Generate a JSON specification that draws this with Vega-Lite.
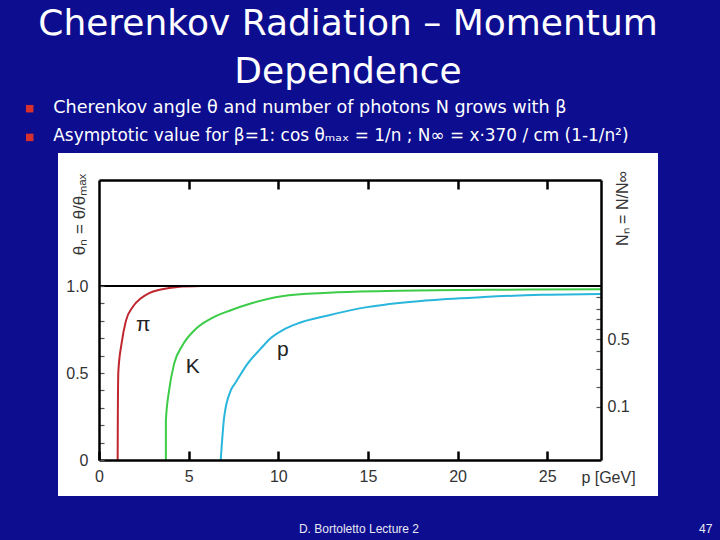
{
  "$schema": "https://vega.github.io/schema/vega-lite/v6.json",
  "width": 502,
  "height": 280,
  "autosize": {"type": "none"},
  "padding": {"left": 99, "top": 180, "right": 119, "bottom": 80},
  "background": "#0d0d90",
  "config": {"view": {"stroke": null}, "font": "Liberation Sans"},
  "data": {"values": [{}]},
  "datasets": {
    "curves": [
      {"particle": "pi", "p": 1.04, "theta": 0},
      {"particle": "pi", "p": 1.05, "theta": 0.25},
      {"particle": "pi", "p": 1.08, "theta": 0.51},
      {"particle": "pi", "p": 1.26, "theta": 0.67},
      {"particle": "pi", "p": 1.5, "theta": 0.8},
      {"particle": "pi", "p": 1.88, "theta": 0.88},
      {"particle": "pi", "p": 2.34, "theta": 0.93},
      {"particle": "pi", "p": 2.8, "theta": 0.96},
      {"particle": "pi", "p": 3.45, "theta": 0.98},
      {"particle": "pi", "p": 4.38, "theta": 0.995},
      {"particle": "pi", "p": 5.68, "theta": 1.0},
      {"particle": "K", "p": 3.73, "theta": 0},
      {"particle": "K", "p": 3.73, "theta": 0.225},
      {"particle": "K", "p": 3.91, "theta": 0.4},
      {"particle": "K", "p": 4.19, "theta": 0.553},
      {"particle": "K", "p": 4.66, "theta": 0.66},
      {"particle": "K", "p": 5.31, "theta": 0.745},
      {"particle": "K", "p": 6.24, "theta": 0.813},
      {"particle": "K", "p": 7.35, "theta": 0.861},
      {"particle": "K", "p": 8.46, "theta": 0.9},
      {"particle": "K", "p": 10.2, "theta": 0.942},
      {"particle": "K", "p": 12.8, "theta": 0.962},
      {"particle": "K", "p": 16.0, "theta": 0.972},
      {"particle": "K", "p": 20.4, "theta": 0.978},
      {"particle": "K", "p": 24.0, "theta": 0.98},
      {"particle": "K", "p": 28.0, "theta": 0.982},
      {"particle": "p", "p": 6.79, "theta": 0},
      {"particle": "p", "p": 6.98, "theta": 0.245},
      {"particle": "p", "p": 7.35, "theta": 0.4},
      {"particle": "p", "p": 7.63, "theta": 0.447},
      {"particle": "p", "p": 8.28, "theta": 0.553},
      {"particle": "p", "p": 9.02, "theta": 0.64},
      {"particle": "p", "p": 9.57, "theta": 0.7},
      {"particle": "p", "p": 10.3, "theta": 0.75},
      {"particle": "p", "p": 11.03, "theta": 0.783},
      {"particle": "p", "p": 12.77, "theta": 0.831},
      {"particle": "p", "p": 14.94, "theta": 0.879},
      {"particle": "p", "p": 18.2, "theta": 0.917},
      {"particle": "p", "p": 21.46, "theta": 0.937},
      {"particle": "p", "p": 24.72, "theta": 0.95},
      {"particle": "p", "p": 28.0, "theta": 0.955}
    ],
    "labels": [
      {"label": "π", "p": 2.47, "theta": 0.775},
      {"label": "K", "p": 5.23, "theta": 0.537},
      {"label": "p", "p": 10.26, "theta": 0.633}
    ]
  },
  "layer": [
    {
      "mark": {"type": "rect", "color": "#ffffff", "clip": false},
      "encoding": {
        "x": {"datum": -2.287, "type": "quantitative", "scale": {"domain": [0, 28], "nice": false}, "axis": null},
        "x2": {"datum": 31.18},
        "y": {"datum": -0.207, "type": "quantitative", "scale": {"domain": [0, 1.61], "nice": false}, "axis": null},
        "y2": {"datum": 1.765}
      }
    },
    {
      "data": {"name": "curves"},
      "mark": {"type": "line", "strokeWidth": 2, "clip": false, "interpolate": "monotone"},
      "encoding": {
        "x": {
          "field": "p", "type": "quantitative",
          "scale": {"domain": [0, 28], "nice": false},
          "axis": {
            "orient": "bottom", "values": [0, 5, 10, 15, 20, 25], "grid": false, "zindex": 1,
            "domainColor": "#000000", "domainWidth": 2.5,
            "tickColor": "#000000", "tickWidth": 2.5, "tickSize": -9,
            "labelFont": "Liberation Sans", "labelFontSize": 16, "labelColor": "#333333",
            "labelPadding": 25, "labelFlush": false, "labelBaseline": "middle",
            "title": "p [GeV]", "titleFont": "Liberation Sans", "titleFontSize": 16,
            "titleFontWeight": "normal", "titleColor": "#333333",
            "titleX": 509, "titleY": 17, "titleAlign": "center", "titleBaseline": "middle"
          }
        },
        "y": {
          "field": "theta", "type": "quantitative",
          "scale": {"domain": [0, 1.61], "nice": false},
          "axis": {
            "orient": "left", "values": [0, 0.1, 0.2, 0.3, 0.4, 0.5, 0.6, 0.7, 0.8, 0.9, 1],
            "grid": false, "zindex": 1,
            "domainColor": "#000000", "domainWidth": 2.5,
            "tickColor": "#555555", "tickWidth": 1.2, "tickSize": -5,
            "labelExpr": "datum.value == 0 ? '0' : datum.value == 0.5 ? '0.5' : datum.value == 1 ? '1.0' : ''",
            "labelFont": "Liberation Sans", "labelFontSize": 16, "labelColor": "#333333",
            "labelPadding": 16, "labelFlush": false,
            "title": "θₙ = θ/θₘₐₓ", "titleFont": "Liberation Sans", "titleFontSize": 17,
            "titleFontWeight": "normal", "titleColor": "#333333",
            "titleAngle": 270, "titleX": -20, "titleY": 34, "titleAlign": "center", "titleBaseline": "middle"
          }
        },
        "color": {
          "field": "particle", "type": "nominal",
          "scale": {"domain": ["pi", "K", "p"], "range": ["#c0262e", "#3ccc48", "#29b6dc"]},
          "legend": null
        },
        "order": {"field": "p", "type": "quantitative"}
      }
    },
    {
      "mark": {"type": "rule", "color": "#000000", "strokeWidth": 2},
      "encoding": {
        "y": {
          "datum": 1, "type": "quantitative",
          "scale": {"domain": [0, 1.61], "nice": false},
          "axis": {
            "orient": "right", "values": [0.307, 0.418, 0.522, 0.629, 0.694, 0.752, 0.809, 0.867, 0.936],
            "grid": false, "zindex": 1,
            "domainColor": "#000000", "domainWidth": 2.5,
            "tickColor": "#555555", "tickWidth": 1.2, "tickSize": -5,
            "labelExpr": "datum.value == 0.694 ? '0.5' : datum.value == 0.307 ? '0.1' : ''",
            "labelFont": "Liberation Sans", "labelFontSize": 16, "labelColor": "#333333",
            "labelPadding": 11, "labelFlush": false,
            "title": "Nₙ = N/N∞", "titleFont": "Liberation Sans", "titleFontSize": 16,
            "titleFontWeight": "normal", "titleColor": "#333333",
            "titleAngle": 270, "titleX": 21, "titleY": 28, "titleAlign": "center", "titleBaseline": "middle"
          }
        }
      }
    },
    {
      "data": {"name": "labels"},
      "mark": {"type": "text", "fontSize": 21, "font": "Liberation Sans", "color": "#222222", "align": "center", "baseline": "middle", "clip": false},
      "encoding": {
        "x": {
          "field": "p", "type": "quantitative",
          "scale": {"domain": [0, 28], "nice": false},
          "axis": {
            "orient": "top", "values": [5, 10, 15, 20, 25], "grid": false, "zindex": 1,
            "domainColor": "#000000", "domainWidth": 2.5,
            "tickColor": "#000000", "tickWidth": 2.5, "tickSize": -9,
            "labels": false, "title": null
          }
        },
        "y": {"field": "theta", "type": "quantitative", "scale": {"domain": [0, 1.61], "nice": false}, "axis": null},
        "text": {"field": "label"}
      }
    },
    {
      "mark": {"type": "text", "font": "DejaVu Sans", "fontSize": 36, "color": "#ffffff", "align": "center", "baseline": "alphabetic", "lineHeight": 47.7, "clip": false},
      "encoding": {
        "x": {"datum": 13.89, "type": "quantitative", "scale": {"domain": [0, 28], "nice": false}, "axis": null},
        "y": {"datum": 2.444, "type": "quantitative", "scale": {"domain": [0, 1.61], "nice": false}, "axis": null},
        "text": {"value": ["Cherenkov Radiation – Momentum", "Dependence"]}
      }
    },
    {
      "mark": {"type": "text", "font": "DejaVu Sans", "fontSize": 17.6, "color": "#ffffff", "align": "left", "baseline": "alphabetic", "clip": false},
      "encoding": {
        "x": {"datum": -2.549, "type": "quantitative", "scale": {"domain": [0, 28], "nice": false}, "axis": null},
        "y": {"datum": 1.994, "type": "quantitative", "scale": {"domain": [0, 1.61], "nice": false}, "axis": null},
        "text": {"value": "Cherenkov angle θ and number of photons N grows with β"}
      }
    },
    {
      "mark": {"type": "text", "font": "DejaVu Sans", "fontSize": 16.9, "color": "#ffffff", "align": "left", "baseline": "alphabetic", "clip": false},
      "encoding": {
        "x": {"datum": -2.549, "type": "quantitative", "scale": {"domain": [0, 28], "nice": false}, "axis": null},
        "y": {"datum": 1.835, "type": "quantitative", "scale": {"domain": [0, 1.61], "nice": false}, "axis": null},
        "text": {"value": "Asymptotic value for β=1: cos θₘₐₓ = 1/n ; N∞ = x·370 / cm (1-1/n²)"}
      }
    },
    {
      "mark": {"type": "point", "shape": "square", "filled": true, "size": 56, "color": "#d8302c", "opacity": 1, "clip": false},
      "encoding": {
        "x": {"datum": -3.865, "type": "quantitative", "scale": {"domain": [0, 28], "nice": false}, "axis": null},
        "y": {"datum": 2.02, "type": "quantitative", "scale": {"domain": [0, 1.61], "nice": false}, "axis": null}
      }
    },
    {
      "mark": {"type": "point", "shape": "square", "filled": true, "size": 56, "color": "#d8302c", "opacity": 1, "clip": false},
      "encoding": {
        "x": {"datum": -3.865, "type": "quantitative", "scale": {"domain": [0, 28], "nice": false}, "axis": null},
        "y": {"datum": 1.855, "type": "quantitative", "scale": {"domain": [0, 1.61], "nice": false}, "axis": null}
      }
    },
    {
      "mark": {"type": "text", "font": "Liberation Sans", "fontSize": 12, "color": "#e8e8f0", "align": "center", "baseline": "alphabetic", "clip": false},
      "encoding": {
        "x": {"datum": 14.5, "type": "quantitative", "scale": {"domain": [0, 28], "nice": false}, "axis": null},
        "y": {"datum": -0.42, "type": "quantitative", "scale": {"domain": [0, 1.61], "nice": false}, "axis": null},
        "text": {"value": "D. Bortoletto Lecture 2"}
      }
    },
    {
      "mark": {"type": "text", "font": "Liberation Sans", "fontSize": 12, "color": "#e8e8f0", "align": "right", "baseline": "alphabetic", "clip": false},
      "encoding": {
        "x": {"datum": 34.21, "type": "quantitative", "scale": {"domain": [0, 28], "nice": false}, "axis": null},
        "y": {"datum": -0.42, "type": "quantitative", "scale": {"domain": [0, 1.61], "nice": false}, "axis": null},
        "text": {"value": "47"}
      }
    }
  ],
  "resolve": {"axis": {"x": "independent", "y": "independent"}}
}
